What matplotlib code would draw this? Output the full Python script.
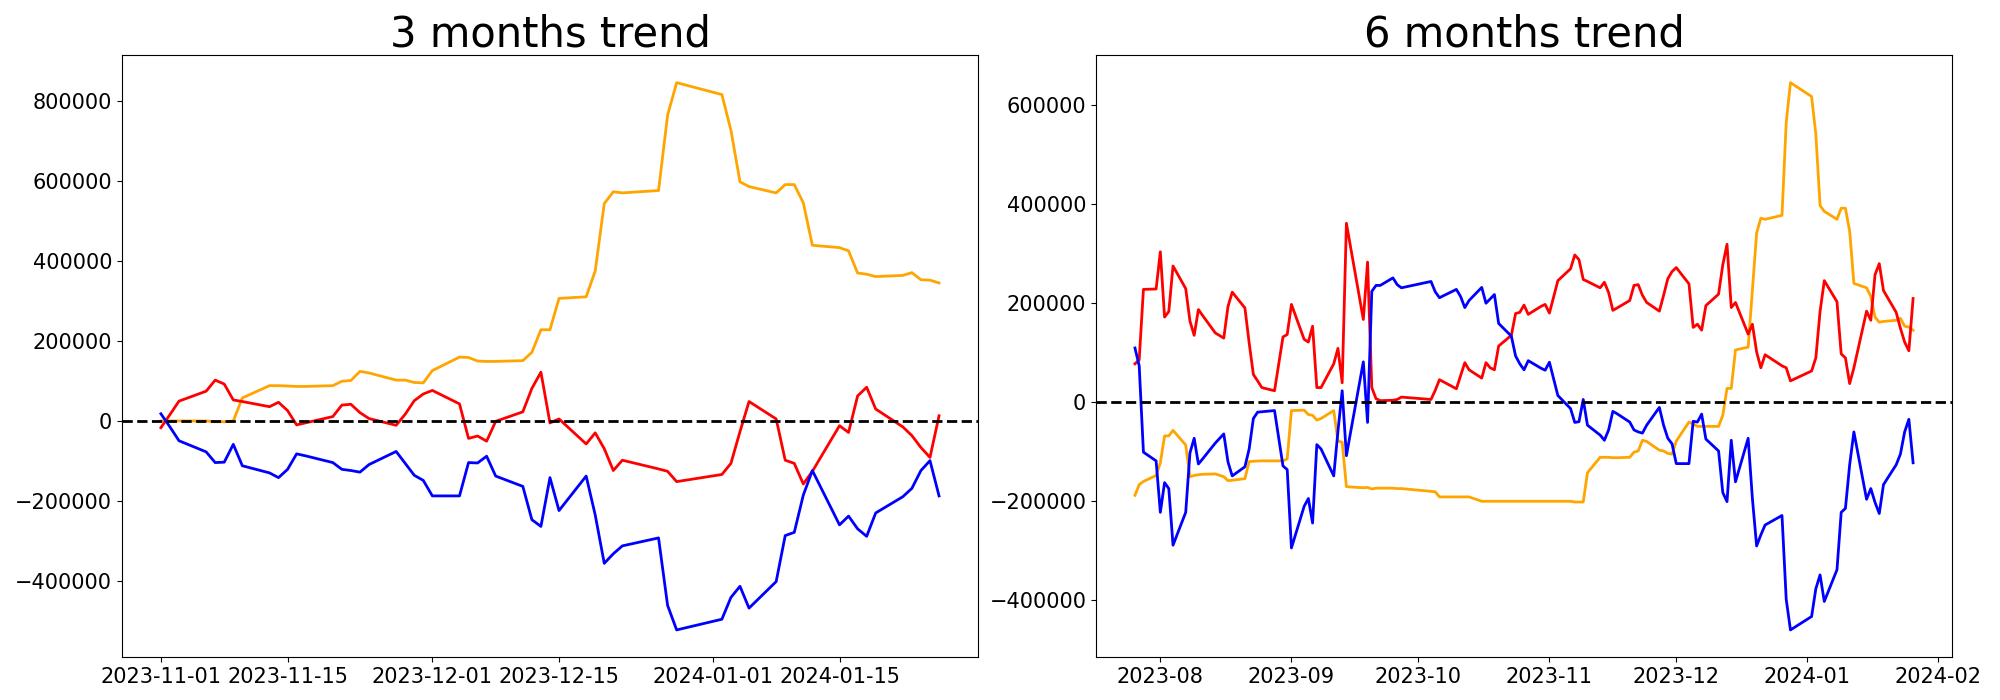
import pandas as pd
import matplotlib
matplotlib.use('Agg')
import matplotlib.pyplot as plt
import matplotlib.dates as mdates

# market closing days inside the period (trading days only are plotted)
holidays = ['2023-08-15', '2023-09-28', '2023-09-29', '2023-10-02', '2023-10-03',
            '2023-10-09', '2023-12-25', '2023-12-29', '2024-01-01']

dates_3m = pd.bdate_range('2023-11-01', '2024-01-26', freq='C', holidays=holidays)
dates_6m = pd.bdate_range('2023-07-26', '2024-01-26', freq='C', holidays=holidays)

# 3 months (Nov .. Jan)
orange_3m = [0, 0, 0, 0, -2000, -2000, 0, 57600, 88300, 88300, 87400, 86400, 86400,
             88300, 99300, 101300, 124100, 120100, 102200, 102200, 96300, 95300,
             126100, 159800, 158800, 149900, 148900, 149000, 150900, 171700, 228300,
             228300, 306700, 310700, 375200, 544000, 573700, 570800, 576700, 765300, 846700,
             816900, 727600, 598500, 586600, 570700, 591600, 591600, 545900, 439700,
             433800, 425800, 370200, 367300, 361300, 364300, 371200, 353400, 352400, 345400]
red_3m = [-16900, 16000, 49600, 74500, 102200, 92300, 52600, 48600, 35700, 46700, 25800,
          -9900, -4700, 10900, 39700, 41700, 20800, 6000, -10900, 16900, 50600, 67500,
          76400, 42700, -43700, -37700, -50600, -1000, 22800, 81400, 122100, -5000, 5000,
          -57600, -29800, -69500, -124100, -98300, -120100, -126100, -151900,
          -134000, -106200, -26800, 48600, 5000, -98300, -106200, -157800, -126100,
          -11900, -28800, 62500, 84400, 29800, -14900, -36700, -66500, -91300, 12900]
blue_3m = [17900, -15000, -49600, -77400, -104200, -103200, -58600, -112200, -130000,
           -141900, -121100, -82400, -87400, -104200, -121100, -124100, -128100, -109200,
           -76400, -106200, -136000, -148900,
           -187600, -187600, -104200, -105200, -88300, -138000, -163800, -247200, -264000,
           -141900, -224300, -138000, -235300, -356400, -332500, -312700, -292800,
           -461600, -523100,
           -496300, -441700, -413900, -468500, -402000, -286900, -278900, -185600,
           -124100, -260100, -238200, -270000, -288800, -230300, -189600, -168700,
           -124100, -99300, -187600]

# 6 months (late Jul .. Jan)
orange_6m = [-187800, -166200, -159800, -147800,
             -122200, -67900, -67900, -56700, -86300, -150200, -147800, -146200, -145400,
             -144600, -150200, -158200, -157400, -154200, -119800, -119000, -118600,
             -118300, -118300, -118300, -118300, -114300,
             -16800, -16000, -24800, -26400, -36000, -32800, -16800, -78300, -80700,
             -170200, -171000, -172600, -171800, -175000, -173400, -173400, -173400,
             -174200, -174200,
             -179800, -180600, -191000, -191000, -191000, -191000, -191000, -199800,
             -199800, -199800, -199800, -199800, -199800, -199800, -199800, -199800,
             -199800, -199800, -199800,
             -199800, -199800, -199800, -199800, -201300, -201300, -201300, -142200,
             -111100, -111100, -111100, -111900, -111900, -111100, -100700, -98300,
             -76700, -79100, -96700, -98300, -103100, -104700,
             -78300, -40000, -43900, -48700, -48700, -48700, -48700, -26400, 28000, 28000,
             105500, 111100, 226100, 341500, 371500, 369100, 377100, 564900, 644800,
             616800, 540900, 397100, 385100, 369100, 391500, 391500, 345200, 239700,
             230900, 213300, 171800, 161400, 163000, 165400, 169400, 153400, 151800, 145400]
red_6m = [77500, 85500, 227700, 228500,
          303600, 171800, 183000, 274900, 229300, 163800, 135000, 187000, 175000, 139800,
          129400, 193400, 222100, 190200, 120000, 55900, 43100, 29600, 23200, 77500,
          131800, 136600,
          197400, 127000, 121400, 153400, 29600, 29600, 77500, 108700, 39200, 361100,
          312400, 167000, 282800, 29600, 7200, 3200, 4000, 5600, 10400,
          5600, 24000, 45500, 27200, 53500, 79900, 65500, 48700, 79900, 69500, 65500,
          113500, 135000, 179000, 181400, 196000, 177400, 193400, 197400,
          179800, 212500, 245300, 269300, 297200, 287600, 247700, 243700, 230900, 242100,
          221300, 185400, 190200, 205300, 235700, 237300, 215700, 201300, 183800, 215700,
          249300, 263700,
          271700, 238900, 151000, 157400, 145400, 195000, 218100, 277300, 318800, 191000,
          201300, 137400, 157400, 101500, 69500, 95900, 73500, 69500, 43100,
          63100, 89500, 183000, 245300, 202900, 97500, 89500, 37600, 69500, 183800,
          165400, 257300, 279700, 225300, 181400, 149400, 121400, 103900, 209300]
blue_6m = [109500, 73500, -100700, -118300,
           -222100, -162200, -174200, -288400, -222100, -102300, -72700, -124600, -114300,
           -82300, -63900, -120600, -148600, -130200, -94300, -32800, -20000, -19200,
           -16800, -72700, -128600, -135800,
           -294000, -210100, -194200, -243700, -85500, -94300, -148600, -58300, 23200,
           -107900, -59900, 81500, -40700, 223700, 235700, 235700, 250900, 237300, 230900,
           243700, 222900, 210900, 227700, 213300, 191000, 205300, 231700, 199800, 208500,
           217300, 159000, 133400, 93500, 77500, 65500, 83900, 68700, 64700,
           80700, 47100, 13600, -12800, -40700, -39200, 5600, -46300, -66300, -76700,
           -55900, -18400, -23200, -40000, -55900, -59900, -62300, -46300, -10400, -46300,
           -72700, -83900,
           -123800, -123800, -38400, -40000, -24000, -74300, -98300, -182200, -200500,
           -76700, -160600, -72700, -194200, -290000, -267700, -247700, -228500, -397900,
           -459400,
           -432300, -376300, -348400, -401900, -338000, -222100, -214100, -126200, -59900,
           -195800, -174200, -202100, -224500, -166200, -126200, -104700, -59900, -34400,
           -122200]

fig, (ax1, ax2) = plt.subplots(1, 2, figsize=(20, 7), dpi=100)

for ax, dates, series, title in [
        (ax1, dates_3m, (orange_3m, red_3m, blue_3m), '3 months trend'),
        (ax2, dates_6m, (orange_6m, red_6m, blue_6m), '6 months trend')]:
    for vals, color in zip(series, ['orange', 'red', 'blue']):
        ax.plot(dates, vals, color=color, linewidth=2)
    ax.axhline(0, color='black', linestyle='--', linewidth=2)
    ax.set_title(title, fontsize=30)
    ax.tick_params(labelsize=15)
    ax.ticklabel_format(axis='y', style='plain')

ax1.xaxis.set_major_locator(mdates.DayLocator(bymonthday=[1, 15]))
ax1.xaxis.set_major_formatter(mdates.DateFormatter('%Y-%m-%d'))
ax2.xaxis.set_major_locator(mdates.MonthLocator())
ax2.xaxis.set_major_formatter(mdates.DateFormatter('%Y-%m'))

plt.subplots_adjust(left=0.061, right=0.976, bottom=0.061, top=0.921, wspace=0.138)
plt.savefig('out.png', dpi=100)
print("Saved to out.png")
